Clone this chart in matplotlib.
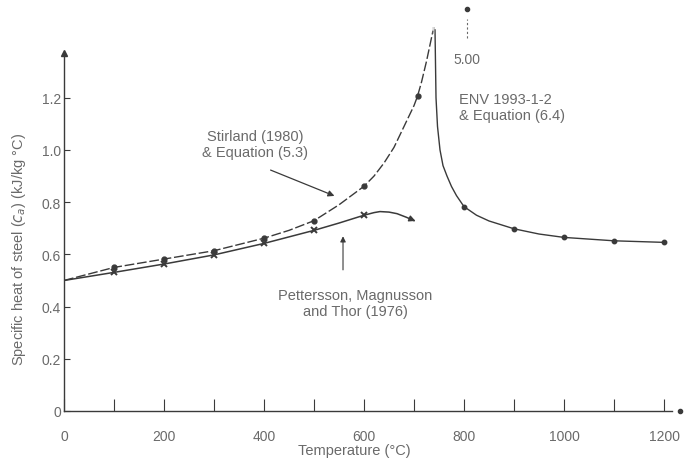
import numpy as np
import matplotlib.pyplot as plt

# Stirland (1980) & Equation (5.3), rising branch up to the 735 C peak
stirland_t = [0, 50, 100, 200, 300, 400, 450, 500, 550, 600, 620, 640, 660, 680, 700, 707, 715, 725, 738]
stirland_cp = [0.50, 0.525, 0.55, 0.582, 0.614, 0.662, 0.692, 0.729, 0.79, 0.861, 0.90, 0.95, 1.01, 1.09, 1.17, 1.206, 1.26, 1.34, 1.457]
stirland_mark_t = [100, 200, 300, 400, 500, 600, 707]
stirland_mark_cp = [0.55, 0.582, 0.614, 0.662, 0.729, 0.861, 1.206]

# ENV 1993-1-2 & Equation (6.4), falling branch after the peak
env_t = [742, 743, 744, 747, 752, 758, 766, 775, 785, 800, 825, 850, 900, 950, 1000, 1100, 1200]
env_cp = [1.46, 1.33, 1.20, 1.09, 1.00, 0.94, 0.90, 0.86, 0.825, 0.783, 0.75, 0.728, 0.698, 0.678, 0.665, 0.652, 0.646]
env_mark_t = [800, 900, 1000, 1100, 1200]
env_mark_cp = [0.783, 0.698, 0.665, 0.652, 0.646]

# Pettersson, Magnusson and Thor (1976)
pmt_t = [0, 100, 200, 300, 400, 500, 550, 600, 620, 632, 650, 666, 685, 700]
pmt_cp = [0.50, 0.531, 0.563, 0.598, 0.642, 0.692, 0.72, 0.75, 0.76, 0.764, 0.762, 0.756, 0.742, 0.729]
pmt_mark_t = [100, 200, 300, 400, 500, 600]
pmt_mark_cp = [0.531, 0.563, 0.598, 0.642, 0.692, 0.75]

x_major = [0, 200, 400, 600, 800, 1000, 1200]
x_minor = [100, 300, 500, 700, 900, 1100]
y_ticks = [0, 0.2, 0.4, 0.6, 0.8, 1.0, 1.2]
y_labels = ["0", "0.2", "0.4", "0.6", "0.8", "1.0", "1.2"]

plt.rcParams["font.family"] = ["Liberation Sans", "DejaVu Sans"]
line_c = "#3a3a3a"
text_c = "#6a6a6a"

fig = plt.figure(figsize=(6.86, 4.64), dpi=100)
ax = fig.add_axes([0.0933, 0.1121, 0.9038, 0.8888])
ax.set_xlim(0, 1240)
ax.set_ylim(0, 1.58)

ax.plot(stirland_t, stirland_cp, color=line_c, lw=1.0, ls=(0, (7, 2)))
ax.plot(stirland_mark_t, stirland_mark_cp, "o", color=line_c, ms=3.5)
ax.plot(env_t, env_cp, color=line_c, lw=1.0)
ax.plot(env_mark_t, env_mark_cp, "o", color=line_c, ms=3.2)
ax.plot(pmt_t, pmt_cp, color=line_c, lw=1.1)
ax.plot(pmt_mark_t, pmt_mark_cp, "x", color=line_c, ms=4, mew=1.4)
ax.annotate("", xy=(pmt_t[-1] + 8, pmt_cp[-1] - 0.005), xytext=(pmt_t[-2], pmt_cp[-2]),
            arrowprops=dict(arrowstyle="-|>", color=line_c, lw=1.0, mutation_scale=9))

# off-scale peak value
ax.plot([805], [1.54], "o", color=line_c, ms=3, clip_on=False)
ax.plot([805, 805], [1.43, 1.50], color=text_c, lw=0.8, ls=(0, (2, 2)))
ax.text(805, 1.35, "5.00", ha="center", va="center", color=text_c, fontsize=10)
ax.text(738, 1.46, "||", ha="center", va="center", color="#999999", fontsize=6)

# annotations
ax.text(382, 1.023, "Stirland (1980)\n& Equation (5.3)", ha="center", va="center",
        color=text_c, fontsize=10.5, linespacing=1.15)
ax.annotate("", xy=(546, 0.82), xytext=(408, 0.927),
            arrowprops=dict(arrowstyle="-|>", color=line_c, lw=0.9, mutation_scale=9))
ax.text(582, 0.414, "Pettersson, Magnusson\nand Thor (1976)", ha="center", va="center",
        color=text_c, fontsize=10.5, linespacing=1.15)
ax.annotate("", xy=(558, 0.68), xytext=(558, 0.53),
            arrowprops=dict(arrowstyle="-|>", color=line_c, lw=0.8, mutation_scale=8))
ax.text(790, 1.165, "ENV 1993-1-2\n& Equation (6.4)", ha="left", va="center",
        color=text_c, fontsize=10.5, linespacing=1.15)

# axes styling
for s in ["top", "right"]:
    ax.spines[s].set_visible(False)
ax.spines["left"].set_bounds(0, 1.37)
ax.spines["bottom"].set_bounds(0, 1215)
for s in ["left", "bottom"]:
    ax.spines[s].set_color(line_c)
    ax.spines[s].set_linewidth(1.0)
ax.plot([0], [1.37], "^", color=line_c, ms=4, clip_on=False)
ax.plot([1232], [0], "o", color=line_c, ms=3, clip_on=False)

ax.set_xticks(x_major)
ax.set_xticks(x_minor, minor=True)
ax.set_yticks(y_ticks)
ax.set_yticklabels(y_labels)
ax.tick_params(axis="x", which="both", direction="in", length=9, width=0.8,
               color=line_c, labelcolor=text_c, labelsize=10, pad=13)
ax.tick_params(axis="y", direction="in", length=4, width=0.8,
               color=line_c, labelcolor=text_c, labelsize=10, pad=2)

ax.set_xlabel("Temperature (°C)", color=text_c, fontsize=10.5)
ax.xaxis.set_label_coords(0.469, -0.078)
ax.set_ylabel("Specific heat of steel ($c_a$) (kJ/kg °C)", color=text_c, fontsize=10.5)
ax.yaxis.set_label_coords(-0.058, 0.393)

fig.savefig("out.png", dpi=100)
